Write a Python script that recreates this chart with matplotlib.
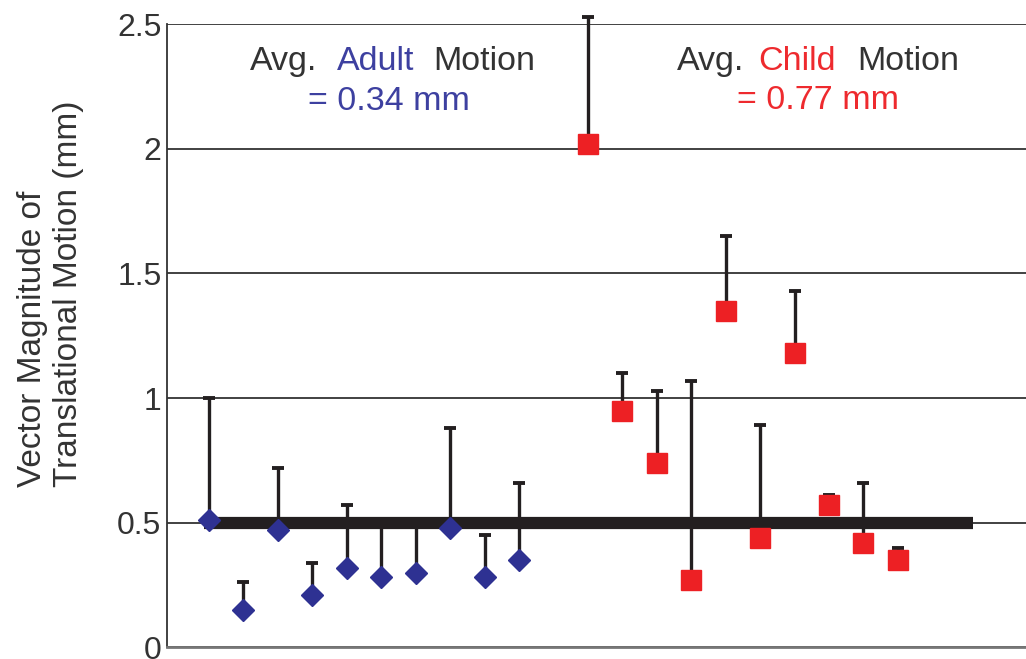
import matplotlib.pyplot as plt
import numpy as np

plt.rcParams['font.family'] = ['Liberation Sans', 'DejaVu Sans']

# adult subjects (blue diamonds): mean motion and upper end of error bar
adult_mean = [0.51, 0.15, 0.47, 0.21, 0.32, 0.28, 0.30, 0.48, 0.28, 0.35]
adult_upper = [1.00, 0.26, 0.72, 0.34, 0.57, 0.50, 0.50, 0.88, 0.45, 0.66]

# child subjects (red squares)
child_mean = [2.02, 0.95, 0.74, 0.27, 1.35, 0.44, 1.18, 0.57, 0.42, 0.35]
child_upper = [2.53, 1.10, 1.03, 1.07, 1.65, 0.89, 1.43, 0.61, 0.66, 0.40]

ref_level = 0.5
yticks = [0, 0.5, 1, 1.5, 2, 2.5]
ytick_labels = ['0', '0.5', '1', '1.5', '2', '2.5']

blue = '#2e3192'
red = '#ed2024'
txt = '#333333'

W, H = 1026, 659
fig = plt.figure(figsize=(W / 100, H / 100), dpi=100)
ax = fig.add_axes([0.1628, 0.0178, 0.8372, 0.9453])

xa = np.arange(1, len(adult_mean) + 1)
xc = np.arange(len(adult_mean) + 2, len(adult_mean) + 2 + len(child_mean))

# thick reference line
ax.plot([0.86, 23.18], [ref_level, ref_level], color='#231f20', lw=8.8,
        solid_capstyle='butt', zorder=3)

ya = np.array(adult_mean)
yc = np.array(child_mean)
for xs, ys, up in [(xa, ya, adult_upper), (xc, yc, child_upper)]:
    eb = ax.errorbar(xs, ys, yerr=[np.zeros_like(ys), np.array(up) - ys],
                     fmt='none', ecolor='#231f20', elinewidth=2.4, capsize=4.3,
                     capthick=2.8, zorder=4)
    for a in list(eb.lines[1]) + list(eb.lines[2]):
        a.set_clip_on(False)

ax.plot(xa, ya, 'D', color=blue, ms=10.8, mec=blue, zorder=5)
ax.plot(xc, yc, 's', color=red, ms=14.2, mec=red, zorder=5)

ax.set_xlim(-0.22, 24.72)
ax.set_ylim(0, 2.5)
ax.set_yticks(yticks)
ax.set_yticklabels(ytick_labels)
ax.set_xticks([])
ax.tick_params(axis='y', length=0, pad=4, labelsize=23, labelcolor=txt)
ax.grid(axis='y', color='#333333', lw=1.3, zorder=1)

ax.spines['top'].set_visible(False)
ax.spines['right'].set_visible(False)
ax.spines['left'].set_color('#333333')
ax.spines['left'].set_linewidth(1.3)
ax.spines['bottom'].set_color('#777777')
ax.spines['bottom'].set_linewidth(2)

# y label, both lines starting at the same height
fig.text(50.5 / W, 1 - 487 / H, 'Vector Magnitude of\nTranslational Motion (mm)',
         rotation=90, ha='center', va='bottom', multialignment='left',
         fontsize=24, color=txt, linespacing=1.22)


def put(x, y, s, c):
    fig.text(x / W, 1 - y / H, s, color=c, fontsize=24.5, ha='left', va='baseline')


# annotations
put(250, 70, 'Avg.', txt)
put(337, 70, 'Adult', '#3d40a0')
put(433, 70, 'Motion', txt)
put(308, 110, '= 0.34 mm', '#3d40a0')

put(677, 70, 'Avg.', txt)
put(758, 70, 'Child', '#ee2a2e')
put(857, 70, 'Motion', txt)
put(737, 109, '= 0.77 mm', '#ee2a2e')

fig.savefig('out.png', dpi=100)
